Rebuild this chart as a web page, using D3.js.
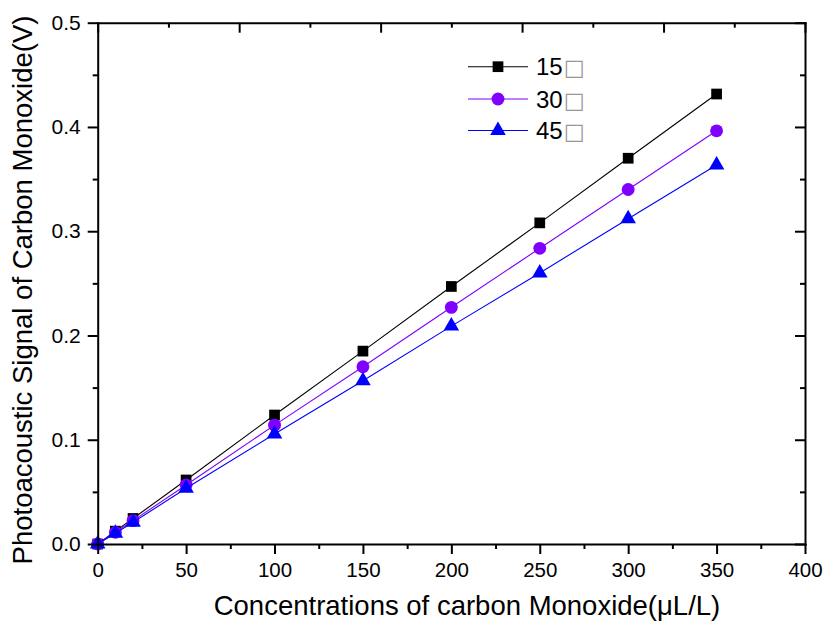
<!DOCTYPE html>
<html><head><meta charset="utf-8">
<script src="https://cdn.jsdelivr.net/npm/d3@7"></script>
<style>
html,body{margin:0;padding:0;background:#fff;}
svg text{font-family:"Liberation Sans",Arial,sans-serif;fill:#000;}
</style></head>
<body><svg id="c" width="823" height="622"></svg>
<script>
const concentrations = [0, 10, 20, 50, 100, 150, 200, 250, 300, 350];
const signal15 = [0, 0.0123, 0.0245, 0.0614, 0.1237, 0.185, 0.2470, 0.3080, 0.3700, 0.4316];
const signal30 = [0, 0.0112, 0.0224, 0.0566, 0.1140, 0.170, 0.2270, 0.2836, 0.3400, 0.3963];
const signal45 = [0, 0.0104, 0.0208, 0.0534, 0.1055, 0.1566, 0.2090, 0.2600, 0.3120, 0.3635];
const seriesNames = ["15", "30", "45"];
const xTicks = [0, 50, 100, 150, 200, 250, 300, 350, 400];
const yTicks = [0.0, 0.1, 0.2, 0.3, 0.4, 0.5];
const xTitle = "Concentrations of carbon Monoxide(\u03bcL/L)";
const yTitle = "Photoacoustic Signal of Carbon Monoxide(V)";

const svg = d3.select("#c");
const L = 97.7, R = 805, T = 22.7, B = 544;
const x = d3.scaleLinear().domain([0, 400]).range([L, R]);
const y = d3.scaleLinear().domain([0, 0.5]).range([B, T]);

const series = [
  {name: seriesNames[0], vals: signal15, color: "#000000", sym: d3.symbolSquare, size: 115},
  {name: seriesNames[1], vals: signal30, color: "#8000ff", sym: d3.symbolCircle, size: 130},
  {name: seriesNames[2], vals: signal45, color: "#0000ff", sym: d3.symbolTriangle, size: 105}
];

const line = d3.line().x(d => x(d[0])).y(d => y(d[1]));
series.forEach(s => {
  const pts = concentrations.map((c, i) => [c, s.vals[i]]);
  const g = svg.append("g");
  g.append("path").attr("d", line(pts)).attr("fill", "none").attr("stroke", s.color).attr("stroke-width", 1.1);
  g.selectAll("path.m").data(pts).enter().append("path").attr("class", "m")
    .attr("d", d3.symbol().type(s.sym).size(s.size))
    .attr("transform", d => `translate(${x(d[0])},${y(d[1])})`)
    .attr("fill", s.color);
});

function styleAxis(g) {
  g.select(".domain").attr("stroke-width", 2).attr("stroke", "#000");
  g.selectAll(".tick line").attr("stroke-width", 2).attr("stroke", "#000");
}
const xMinor = d3.range(25, 400, 50);
const yMinor = d3.range(0.05, 0.5, 0.1);

// bottom
const gb = svg.append("g").attr("transform", `translate(0,${B})`);
gb.call(d3.axisBottom(x).tickValues(xTicks).tickFormat(d3.format("d")).tickSizeInner(10).tickSizeOuter(0).tickPadding(8));
gb.selectAll(".tick text").attr("font-size", 20.5);
gb.append("g").call(d3.axisBottom(x).tickValues(xMinor).tickSize(5).tickFormat("")).select(".domain").remove();
styleAxis(gb);

// left
const gl = svg.append("g").attr("transform", `translate(${L},0)`);
gl.call(d3.axisLeft(y).tickValues(yTicks).tickFormat(d3.format(".1f")).tickSizeInner(10).tickSizeOuter(0).tickPadding(7));
gl.selectAll(".tick text").attr("font-size", 21);
gl.append("g").call(d3.axisLeft(y).tickValues(yMinor).tickSize(5).tickFormat("")).select(".domain").remove();
styleAxis(gl);

// top (inward)
const topMajor = [0, 80, 160, 240, 320, 400];
const topMinor = [40, 120, 200, 280, 360];
const gt = svg.append("g").attr("transform", `translate(0,${T})`);
gt.call(d3.axisTop(x).tickValues(topMajor).tickSizeInner(-10).tickSizeOuter(0).tickFormat(""));
gt.append("g").call(d3.axisTop(x).tickValues(topMinor).tickSize(-5).tickFormat("")).select(".domain").remove();
styleAxis(gt);

// right (inward)
const gr = svg.append("g").attr("transform", `translate(${R},0)`);
gr.call(d3.axisRight(y).tickValues(yTicks).tickSizeInner(-10).tickSizeOuter(0).tickFormat(""));
gr.append("g").call(d3.axisRight(y).tickValues(yMinor).tickSize(-5).tickFormat("")).select(".domain").remove();
styleAxis(gr);
svg.selectAll(".domain").attr("stroke-linecap", "square");

// titles
svg.append("text").attr("x", 467).attr("y", 615).attr("text-anchor", "middle")
  .attr("font-size", 27.5).text(xTitle);
svg.append("text").attr("transform", `translate(32,290) rotate(-90)`).attr("text-anchor", "middle")
  .attr("font-size", 27.5).text(yTitle);

// legend
const lg = svg.append("g");
const ly = [66.7, 99, 130.5];
series.forEach((s, i) => {
  lg.append("line").attr("x1", 468).attr("x2", 528).attr("y1", ly[i]).attr("y2", ly[i])
    .attr("stroke", s.color).attr("stroke-width", 1.1);
  lg.append("path").attr("d", d3.symbol().type(s.sym).size(s.size)).attr("transform", `translate(498,${ly[i]})`).attr("fill", s.color);
  const t = lg.append("text").attr("x", 536).attr("y", ly[i] + 8.5).attr("font-size", 24);
  t.append("tspan").text(s.name);
  t.append("tspan").attr("font-family", "DejaVu Sans").attr("font-size", 22).style("fill", "#999").attr("dx", 1).text("\u25a1");
});
</script></body></html>
